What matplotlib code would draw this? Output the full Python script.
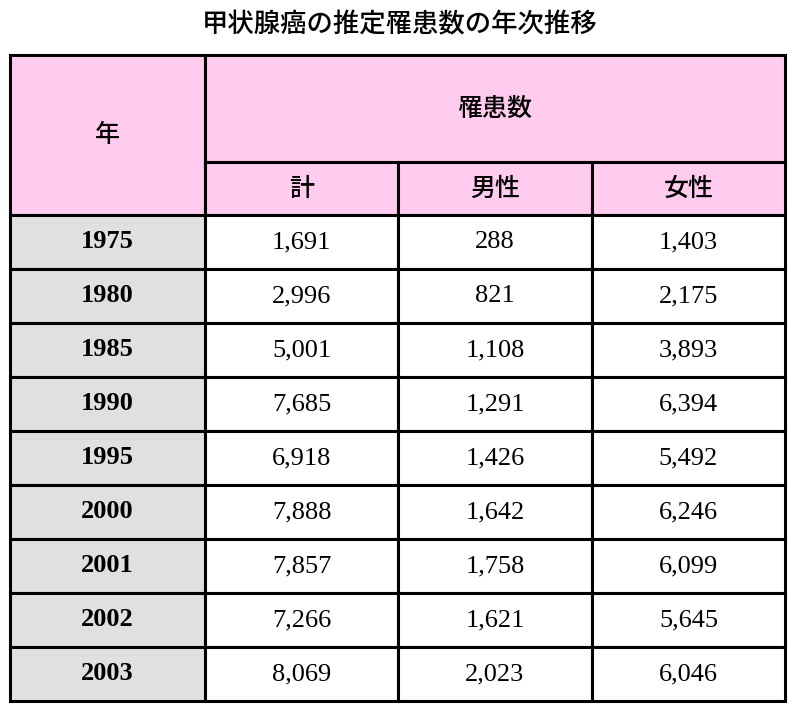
import matplotlib.pyplot as plt
from matplotlib.patches import Rectangle

title = '甲状腺癌の推定罹患数の年次推移'
years = ['1975', '1980', '1985', '1990', '1995', '2000', '2001', '2002', '2003']
total = ['1,691', '2,996', '5,001', '7,685', '6,918', '7,888', '7,857', '7,266', '8,069']
male = ['288', '821', '1,108', '1,291', '1,426', '1,642', '1,758', '1,621', '2,023']
female = ['1,403', '2,175', '3,893', '6,394', '5,492', '6,246', '6,099', '5,645', '6,046']
sub_heads = ['計', '男性', '女性']

jp = ['Noto Sans CJK JP', 'DejaVu Sans']
serif = ['Liberation Serif', 'DejaVu Serif']

fig = plt.figure(figsize=(8, 7.12), dpi=100)
ax = fig.add_axes([0, 0, 1, 1])
ax.set_xlim(0, 800)
ax.set_ylim(712, 0)
ax.axis('off')

pink = '#ffccf0'
grey = '#e0e0e0'
col_x = [10, 205, 398, 592, 785]
top, h1, h2 = 55, 162, 215
row_h = 54

def cell(x0, y0, x1, y1, color):
    ax.add_patch(Rectangle((x0, y0), x1 - x0, y1 - y0, facecolor=color,
                           edgecolor='black', linewidth=2.2))

ax.text(400, 25, title, ha='center', va='center', fontsize=19,
        fontweight='medium', family=jp)

# header
cell(col_x[0], top, col_x[1], h2, pink)
ax.text((col_x[0] + col_x[1]) / 2, (top + h2) / 2, '年', ha='center', va='center',
        fontsize=18, fontweight='medium', family=jp)
cell(col_x[1], top, col_x[4], h1, pink)
ax.text((col_x[1] + col_x[4]) / 2, (top + h1) / 2, '罹患数', ha='center', va='center',
        fontsize=18, fontweight='medium', family=jp)
for i, s in enumerate(sub_heads):
    cell(col_x[i + 1], h1, col_x[i + 2], h2, pink)
    ax.text((col_x[i + 1] + col_x[i + 2]) / 2, (h1 + h2) / 2, s, ha='center',
            va='center', fontsize=18, fontweight='medium', family=jp)

# body
for r, yr in enumerate(years):
    y0 = h2 + r * row_h
    y1 = y0 + row_h
    yc = (y0 + y1) / 2
    cell(col_x[0], y0, col_x[1], y1, grey)
    ax.text((col_x[0] + col_x[1]) / 2, yc, yr, ha='center', va='center',
            fontsize=19, fontweight='bold', family=serif)
    for c, vals in enumerate([total, male, female]):
        cell(col_x[c + 1], y0, col_x[c + 2], y1, 'white')
        ax.text((col_x[c + 1] + col_x[c + 2]) / 2, yc, vals[r], ha='center',
                va='center', fontsize=19, family=serif)

fig.savefig('out.png', dpi=100)
